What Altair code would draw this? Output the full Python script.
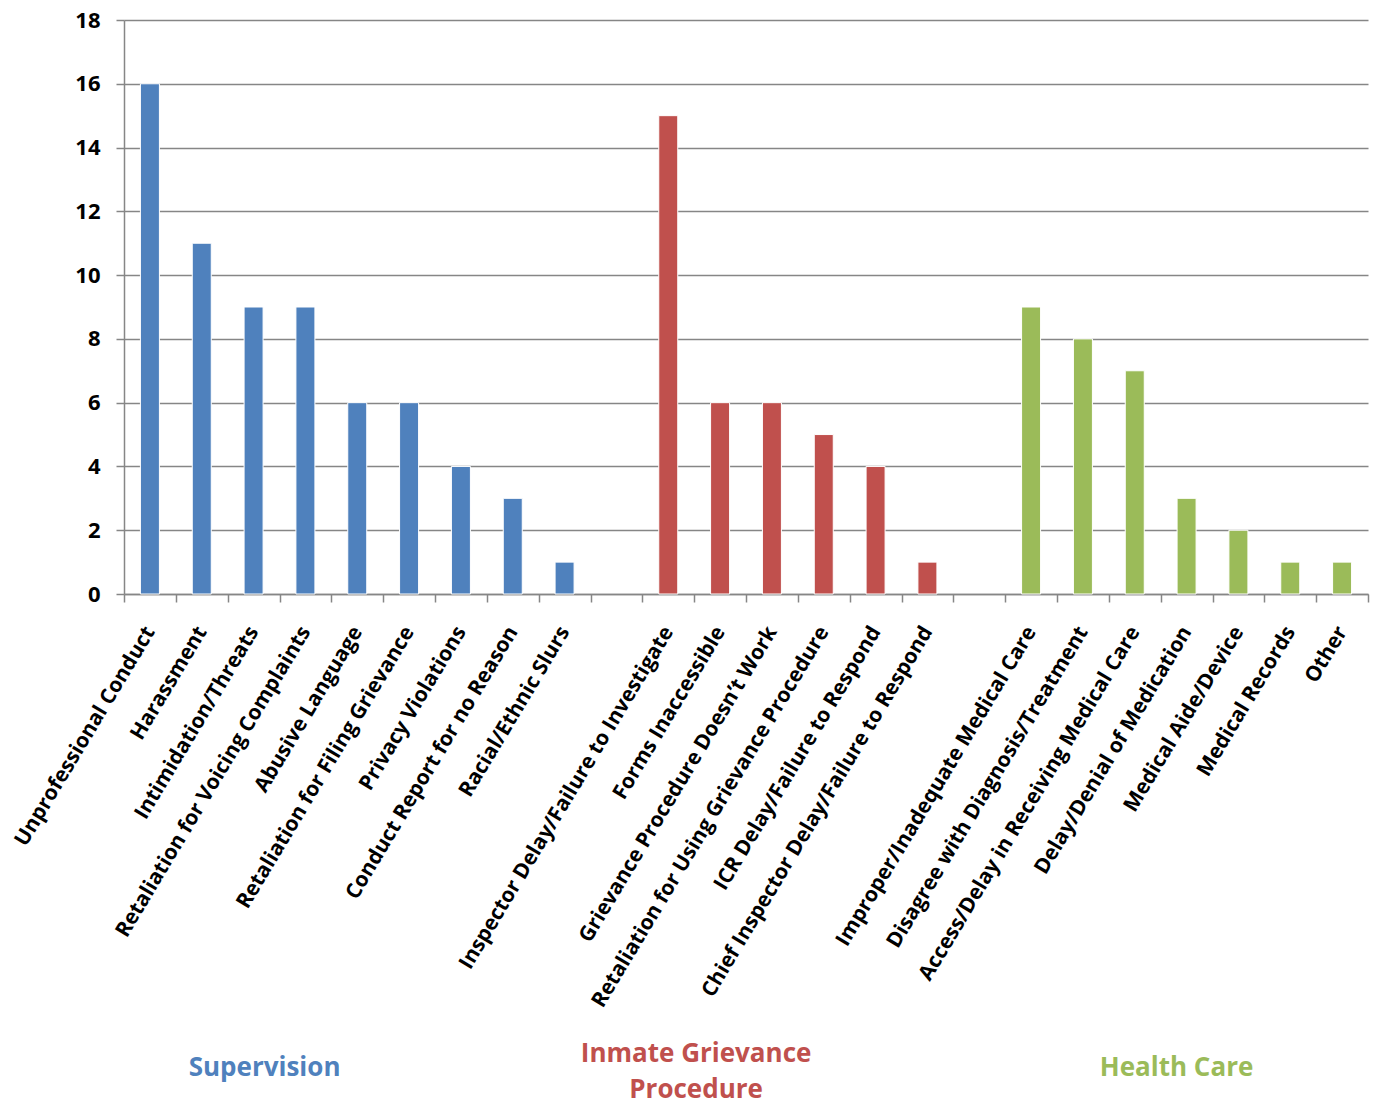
import altair as alt
import pandas as pd

sup_cats = ["Unprofessional Conduct", "Harassment", "Intimidation/Threats",
            "Retaliation for Voicing Complaints", "Abusive Language",
            "Retaliation for Filing Grievance", "Privacy Violations",
            "Conduct Report for no Reason", "Racial/Ethnic Slurs"]
sup_vals = [16, 11, 9, 9, 6, 6, 4, 3, 1]

igp_cats = ["Inspector Delay/Failure to Investigate", "Forms Inaccessible",
            "Grievance Procedure Doesn\u2019t Work",
            "Retaliation for Using Grievance Procedure",
            "ICR Delay/Failure to Respond",
            "Chief Inspector Delay/Failure to Respond"]
igp_vals = [15, 6, 6, 5, 4, 1]

hc_cats = ["Improper/Inadequate Medical Care", "Disagree with Diagnosis/Treatment",
           "Access/Delay in Receiving Medical Care", "Delay/Denial of Medication",
           "Medical Aide/Device", "Medical Records", "Other"]
hc_vals = [9, 8, 7, 3, 2, 1, 1]

groups = ["Supervision", "Inmate Grievance Procedure", "Health Care"]
group_colors = ["#4F81BD", "#C0504D", "#9BBB59"]

# empty slots between the groups
domain = sup_cats + [" "] + igp_cats + ["  "] + hc_cats

rows = []
for g, cats, vals in zip(groups, [sup_cats, igp_cats, hc_cats], [sup_vals, igp_vals, hc_vals]):
    for c, v in zip(cats, vals):
        rows.append({"category": c, "value": v, "group": g})
df = pd.DataFrame(rows)

FONT = "Open Sans"

xscale = alt.Scale(domain=domain, paddingInner=0, paddingOuter=0)
color = alt.Color("group:N", scale=alt.Scale(domain=groups, range=group_colors), legend=None)

bars = alt.Chart(df).mark_bar(width=19, stroke="white", strokeWidth=1).encode(
    x=alt.X("category:N", scale=xscale,
            axis=alt.Axis(title=None, labelAngle=-59, labelFontSize=21, labelFont=FONT,
                          labelFontWeight="bold", labelColor="black", labelPadding=26,
                          labelLimit=700, tickBand="extent", tickSize=8,
                          tickColor="#868686", domainColor="#868686", domainWidth=1.5,
                          tickWidth=1.5, labelOverlap=False)),
    y=alt.Y("value:Q", scale=alt.Scale(domain=[0, 18], nice=False),
            axis=alt.Axis(title=None, values=list(range(0, 19, 2)), labelFontSize=22,
                          labelFont=FONT, labelFontWeight="bold", labelColor="black",
                          tickSize=8, tickColor="#868686", tickWidth=1.5,
                          domainColor="#868686", domainWidth=1.5, labelPadding=16,
                          gridColor="#868686", gridWidth=1.5)),
    color=color,
)

def group_title(text, group, anchor, dx, y):
    d = pd.DataFrame({"category": [anchor], "title": [text], "group": [group]})
    return alt.Chart(d).mark_text(fontSize=26, font=FONT, fontWeight="bold",
                                  lineBreak="\n", lineHeight=36, baseline="middle",
                                  dx=dx).encode(
        x=alt.X("category:N", scale=xscale),
        y=alt.value(y),
        text="title:N",
        color=color,
    )

t1 = group_title("Supervision", groups[0], "Intimidation/Threats", 11, 1048)
t2 = group_title("Inmate Grievance\nProcedure", groups[1], "Forms Inaccessible", -24, 1034)
t3 = group_title("Health Care", groups[2], "Delay/Denial of Medication", -10, 1048)

chart = alt.layer(bars, t1, t2, t3).properties(
    width=1244, height=574,
    autosize=alt.AutoSizeParams(type="none"),
    padding={"left": 116, "top": 12, "right": 3, "bottom": 510},
).configure_view(stroke=None)

chart.save("out.html", embed_options={"renderer": "svg", "actions": False})
